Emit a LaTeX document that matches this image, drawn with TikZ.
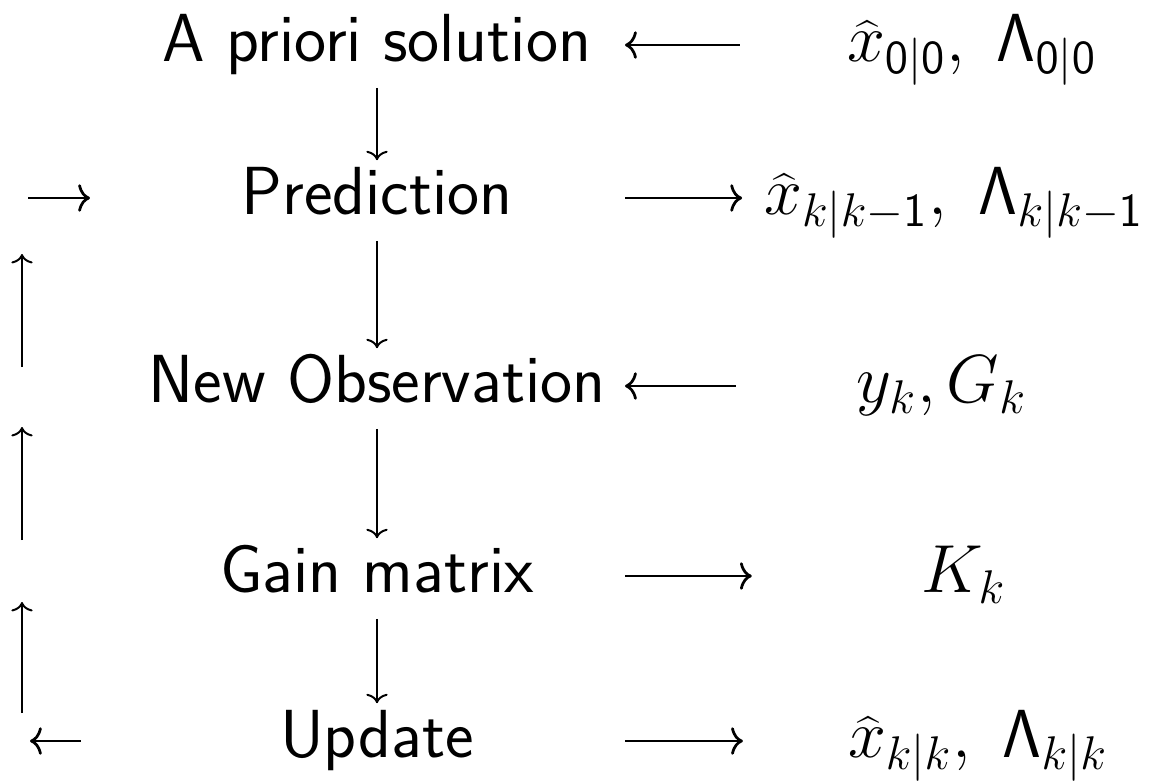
\documentclass[tikz,border=0pt]{standalone}
\usetikzlibrary{arrows.meta}
\begin{document}
\begin{tikzpicture}[x=0.254pt, y=-0.254pt,
  stage/.style={font=\fontsize{17.28}{21}\selectfont\sffamily, minimum width=124pt, inner sep=0pt, text height=12.1pt, text depth=3.5pt},
  quant/.style={font=\fontsize{17.28}{21}\selectfont, inner sep=0pt, text height=12.1pt, text depth=3.5pt},
  link/.style={line width=0.7pt, arrows={-To[length=3pt,width=7pt]}, shorten <=0.8pt},
  knil/.style={line width=0.7pt, arrows={To[length=3pt,width=7pt]-}, shorten <=0.8pt},
  down/.style={line width=0.5pt, arrows={-To[length=2.4pt,width=5.4pt]}, shorten <=2.9pt, shorten >=1.6pt},
  loop/.style={line width=0.5pt, arrows={-To[length=2.4pt,width=5.4pt]}}]
\useasboundingbox (0,0) rectangle (1157,783);

% steps of the filter
\node[stage] (apriori) at (377,45) {A priori solution};
\node[stage] (pred) at (377,198) {Prediction};
\node[stage] (obs) at (377,386) {New Observation};
\node[stage] (gain) at (377,576) {Gain matrix};
\node[stage] (upd) at (377,741) {Update};

% quantities
\node[quant] (init) at (972,45) {$\widehat{x}_{\mathsf{0}|\mathsf{0}},\ \mathsf{\Lambda}_{\mathsf{0}|\mathsf{0}}$};
\node[quant] (predout) at (954,198) {$\widehat{x}_{k|k-\mathsf{1}},\ \mathsf{\Lambda}_{k|k-\mathsf{1}}$};
\node[quant] (meas) at (942,386) {$y_k, G_k$};
\node[quant] (gainout) at (964,576) {$K_k$};
\node[quant] (updout) at (978,741) {$\widehat{x}_{k|k},\ \mathsf{\Lambda}_{k|k}$};

% horizontal arrows end at x = 740
\draw[knil, shorten >=27pt] (apriori) -- (init);
\draw[link, shorten >=5.4pt] (pred) -- (predout);
\draw[knil, shorten >=30.5pt] (obs) -- (meas);
\draw[link, shorten >=43pt] (gain) -- (gainout);
\draw[link, shorten >=26.5pt] (upd) -- (updout);

\draw[down] (apriori) -- (pred);
\draw[down] (pred) -- (obs);
\draw[down] (obs) -- (gain);
\draw[down] (gain) -- (upd);

% feedback loop
\coordinate (back) at (30,741);
\coordinate (again) at (28,198);
\coordinate (l5) at (22,713);
\coordinate (l4a) at (22,602);
\coordinate (l4) at (22,540);
\coordinate (l3a) at (22,427);
\coordinate (l3) at (22,367);
\coordinate (l2a) at (22,254);
\draw[link, shorten <=13pt] (upd) -- (back);
\draw[link, shorten <=0pt, shorten >=10.7pt] (again) -- (pred);
\draw[loop] (l5) -- (l4a);
\draw[loop] (l4) -- (l3a);
\draw[loop] (l3) -- (l2a);
\end{tikzpicture}
\end{document}
